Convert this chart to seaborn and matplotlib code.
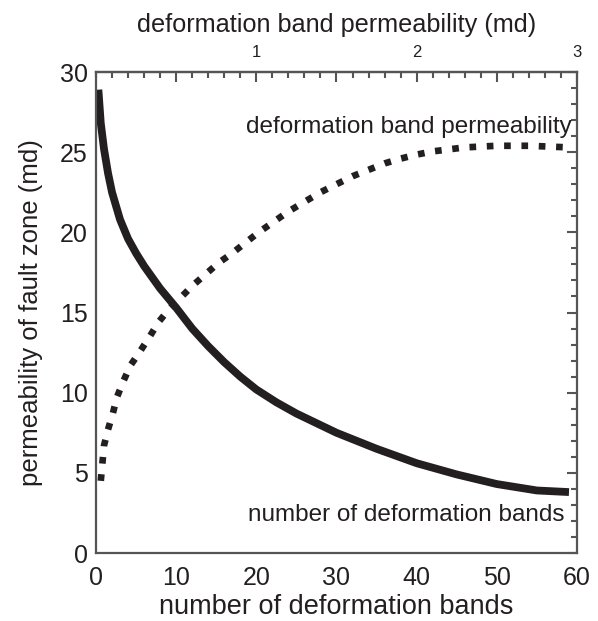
#!/usr/bin/env python3
"""
Fault zone permeability vs. number of deformation bands,
with deformation band permeability on the top axis.
"""

import pandas as pd
import matplotlib
matplotlib.use("Agg")
import matplotlib.pyplot as plt
from matplotlib.ticker import MultipleLocator
import seaborn as sns

# solid curve: fault zone permeability vs number of bands
bands_n = [0.3, 0.6, 1, 1.5, 2, 3, 4, 5, 6, 7, 8, 9, 10, 12, 14, 16, 18, 20,
           22.5, 25, 27.5, 30, 35, 40, 45, 50, 55, 59]
perm_vs_bands = [28.9, 26.8, 25.2, 23.7, 22.5, 20.8, 19.6, 18.7, 17.9, 17.2,
                 16.5, 15.9, 15.3, 14.0, 12.9, 11.9, 11.0, 10.2, 9.4, 8.7,
                 8.1, 7.5, 6.5, 5.6, 4.9, 4.3, 3.9, 3.8]

# dotted curve: fault zone permeability vs band permeability (plotted on bottom scale)
band_perm_x = [0.6, 0.8, 1.0, 1.5, 2.1, 2.6, 3.4, 4.3, 5.4, 6.7, 7.8, 9.1, 10.7,
               12.1, 13.7, 15.3, 17.0, 18.5, 20.3, 22, 24, 26, 28, 30, 32, 34,
               36, 38, 40, 42, 46, 50, 54, 59]
perm_vs_band_perm = [4.5, 5.6, 6.7, 7.7, 8.7, 9.7, 10.7, 11.7, 12.5, 13.5, 14.4,
                     15.2, 16.0, 16.7, 17.4, 18.1, 18.7, 19.3, 20.0, 20.6, 21.3,
                     21.9, 22.5, 23.0, 23.5, 23.9, 24.3, 24.6, 24.85, 25.05,
                     25.3, 25.4, 25.4, 25.3]

top_ticks = [0.5, 1, 1.5, 2, 2.5, 3]
top_labels = ["", "1", "", "2", "", "3"]

GRAY = "#555555"
INK = "#231f20"


def main():
    sns.set_style("white")
    plt.rcParams["font.family"] = ["Liberation Sans", "DejaVu Sans"]

    fig = plt.figure(figsize=(5.98, 6.21), dpi=100)
    ax = fig.add_axes([0.1605, 0.1095, 0.8044, 0.7745])

    solid = pd.DataFrame({"x": bands_n, "y": perm_vs_bands})
    dotted = pd.DataFrame({"x": band_perm_x, "y": perm_vs_band_perm})

    sns.lineplot(data=solid, x="x", y="y", ax=ax, color=INK, lw=5.6,
                 solid_capstyle="butt", solid_joinstyle="round", sort=False)
    sns.lineplot(data=dotted, x="x", y="y", ax=ax, color=INK, lw=4.8,
                 linestyle=(0, (1, 1.6)), dash_capstyle="butt", sort=False)

    ax.set_xlim(0, 60)
    ax.set_ylim(0, 30)

    for s in ax.spines.values():
        s.set_color(GRAY)
        s.set_linewidth(1.6)

    ax.xaxis.set_major_locator(MultipleLocator(10))
    ax.xaxis.set_minor_locator(MultipleLocator(2))
    ax.yaxis.set_major_locator(MultipleLocator(5))
    ax.yaxis.set_minor_locator(MultipleLocator(1))
    ax.tick_params(which="both", direction="in", color=GRAY, width=1.5,
                   right=True, top=False, labelsize=18, labelcolor=INK)
    ax.tick_params(axis="x", pad=9)
    ax.tick_params(axis="y", pad=6)
    ax.tick_params(which="major", length=7)
    ax.tick_params(which="minor", length=4)

    ax.set_xlabel("number of deformation bands", fontsize=19.5, color=INK, labelpad=3)
    ax.set_ylabel("permeability of fault zone (md)", fontsize=18.5, color=INK, labelpad=12)

    # top axis: band permeability, 0-3 md over the same width
    top = ax.secondary_xaxis("top", functions=(lambda v: v / 20.0, lambda v: v * 20.0))
    top.set_xticks(top_ticks, labels=top_labels)
    top.xaxis.set_minor_locator(MultipleLocator(0.1))
    top.tick_params(which="both", direction="in", color=GRAY, width=1.5,
                    labelsize=12, labelcolor=INK, pad=9)
    top.tick_params(which="major", length=7)
    top.tick_params(which="minor", length=4)
    top.spines["top"].set_color(GRAY)
    top.spines["top"].set_linewidth(1.6)
    top.set_xlabel("deformation band permeability (md)", fontsize=18.2,
                   color=INK, labelpad=9)

    ax.text(59.3, 26.6, "deformation band permeability", ha="right", va="center",
            fontsize=17.5, color=INK)
    ax.text(58.4, 2.4, "number of deformation bands", ha="right", va="center",
            fontsize=17.5, color=INK)

    fig.savefig("out.png", dpi=100)
    plt.close(fig)


if __name__ == "__main__":
    main()
